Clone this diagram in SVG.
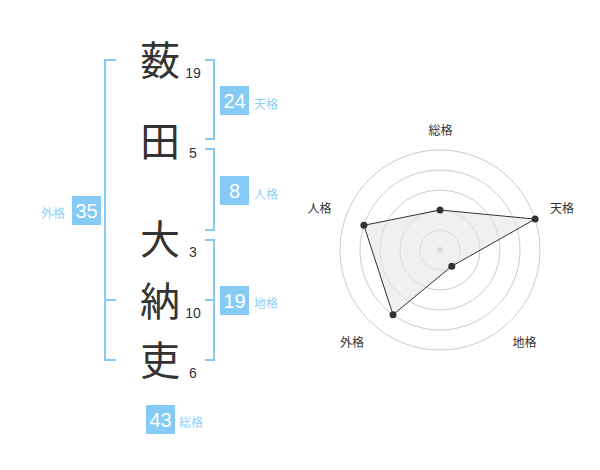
<svg xmlns="http://www.w3.org/2000/svg" width="600" height="470" viewBox="0 0 600 470">
<style>
.kanji{font-family:"Noto Sans CJK JP","Noto Sans CJK SC",sans-serif;font-size:40px;fill:#333;text-anchor:middle}
.stroke{font-family:"Liberation Sans",Arial,sans-serif;font-size:14px;fill:#333;text-anchor:middle}
.br{fill:none;stroke:#85cbf5;stroke-width:2}
.box{fill:#85cbf5}
.bn{font-family:"Liberation Sans",Arial,sans-serif;font-size:20px;fill:#fff;text-anchor:middle}
.bl{font-family:"Noto Sans CJK JP","Noto Sans CJK SC",sans-serif;font-size:12px;fill:#8fd0f7}
.ring{fill:none;stroke:#ccc;stroke-width:1}
.rl{font-family:"Noto Sans CJK JP","Noto Sans CJK SC",sans-serif;font-size:12px;fill:#333;text-anchor:middle}
.pt{fill:#333}
</style>
<rect width="600" height="470" fill="#fff"/>
<g id="name">
<text class="kanji" x="160" y="75">薮</text>
<text class="kanji" x="160" y="156">田</text>
<text class="kanji" x="160" y="254">大</text>
<text class="kanji" x="160" y="316">納</text>
<text class="kanji" x="160" y="375">吏</text>
<text class="stroke" x="193" y="78">19</text>
<text class="stroke" x="193" y="158">5</text>
<text class="stroke" x="193" y="257">3</text>
<text class="stroke" x="193" y="318">10</text>
<text class="stroke" x="193" y="378">6</text>
</g>
<g id="connectors">
<path class="br" d="M116 60H105V360H116M105 300H116"/>
<path class="br" d="M205 60H214V139H205"/>
<path class="br" d="M205 149H214V230H205"/>
<path class="br" d="M205 240H214V360H205M205 300H214"/>
</g>
<g id="tenkaku">
<rect class="box" x="220" y="86" width="29" height="29"/>
<text class="bn" x="234.5" y="108">24</text>
<text class="bl" x="254" y="109">天格</text>
</g>
<g id="jinkaku">
<rect class="box" x="220" y="176" width="29" height="29"/>
<text class="bn" x="234.5" y="198">8</text>
<text class="bl" x="254" y="198.5">人格</text>
</g>
<g id="chikaku">
<rect class="box" x="220" y="286" width="29" height="29"/>
<text class="bn" x="234.5" y="308">19</text>
<text class="bl" x="254" y="308">地格</text>
</g>
<g id="gaikaku">
<rect class="box" x="72" y="196" width="29" height="29"/>
<text class="bn" x="86.5" y="218">35</text>
<text class="bl" x="41" y="217.5">外格</text>
</g>
<g id="soukaku">
<rect class="box" x="146" y="405" width="29" height="29"/>
<text class="bn" x="160.5" y="427">43</text>
<text class="bl" x="179" y="427">総格</text>
</g>
<g id="radar">
<circle class="ring" cx="440" cy="250" r="20"/>
<circle class="ring" cx="440" cy="250" r="40"/>
<circle class="ring" cx="440" cy="250" r="60"/>
<circle class="ring" cx="440" cy="250" r="80"/>
<circle class="ring" cx="440" cy="250" r="100"/>
<circle cx="440" cy="250" r="3" fill="#ccc"/>
<polygon points="440,210 535.1,219.1 451.8,266.2 393,314.7 363.9,225.3" fill="#e6e6e6" fill-opacity="0.6" stroke="#333" stroke-width="1"/>
<circle class="pt" cx="440" cy="210" r="3.5"/>
<circle class="pt" cx="535.1" cy="219.1" r="3.5"/>
<circle class="pt" cx="451.8" cy="266.2" r="3.5"/>
<circle class="pt" cx="393" cy="314.7" r="3.5"/>
<circle class="pt" cx="363.9" cy="225.3" r="3.5"/>
<text class="rl" x="440.5" y="134.5">総格</text>
<text class="rl" x="562" y="213">天格</text>
<text class="rl" x="319.5" y="213">人格</text>
<text class="rl" x="352" y="347">外格</text>
<text class="rl" x="524.5" y="346.5">地格</text>
</g>
</svg>
